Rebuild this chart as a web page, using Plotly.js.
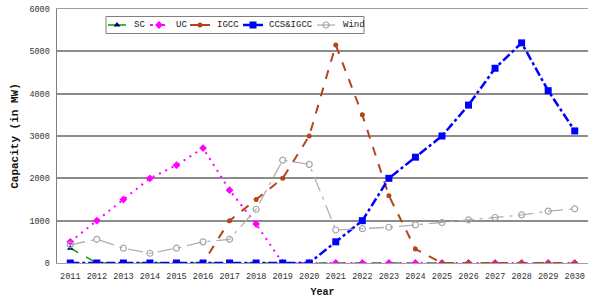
<!DOCTYPE html>
<html><head><meta charset="utf-8">
<script src="https://cdn.plot.ly/plotly-3.0.1.min.js"></script>
<style>html,body{margin:0;padding:0;background:#fff}#chart{width:597px;height:298px}</style>
</head><body><div id="chart"></div>
<script>
const years = ['2011','2012','2013','2014','2015','2016','2017','2018','2019','2020','2021','2022','2023','2024','2025','2026','2027','2028','2029','2030'];
const sc   = [350,0,0,0,0,0,0,0,0,0,0,0,0,0,0,0,0,0,0,0];
const uc   = [500,1000,1500,2000,2310,2715,1720,920,0,0,0,0,0,0,0,0,0,0,0,0];
const igcc = [0,0,0,0,0,0,1000,1500,2000,3000,5150,3500,1590,330,0,0,0,0,0,0];
const ccs  = [0,0,0,0,0,0,0,0,0,0,500,1000,2000,2500,3000,3730,4600,5200,4070,3120];
const wind = [430,560,350,230,350,500,560,1270,2430,2330,780,810,845,900,955,1020,1075,1135,1225,1280];
const seriesNames = ['SC','UC','IGCC','CCS&IGCC','Wind'];
const yTicks = [0,1000,2000,3000,4000,5000,6000];

const F = 'Liberation Mono, DejaVu Sans Mono, monospace';
const styles = [
  {line: {color: '#00a000', width: 1.5, dash: 'dash'}, marker: {symbol: 'triangle-up', size: 6, color: '#000080'}},
  {line: {color: '#ff00ff', width: 2, dash: '2px,5px'}, marker: {symbol: 'diamond', size: 6, color: '#ff00ff'}},
  {line: {color: '#b5451b', width: 2, dash: 'dash'}, marker: {symbol: 'circle', size: 5, color: '#b5451b'}},
  {line: {color: '#0000ff', width: 2.5, dash: 'dashdot'}, marker: {symbol: 'square', size: 7, color: '#0000ff'}},
  {line: {color: '#b0b0b0', width: 1.3, dash: 'longdashdot'}, marker: {symbol: 'circle-open', size: 6, color: '#a6a6a6', line: {width: 1.2}}}
];
const values = [sc, uc, igcc, ccs, wind];
const traces = values.map((v, i) => ({x: years, y: v, name: seriesNames[i], mode: 'lines+markers',
  line: styles[i].line, marker: styles[i].marker, showlegend: false, hoverinfo: 'skip'}));

// hand-made legend (pixel coordinates on an overlay axis)
const legSym = [[108,126],[150,168],[190,210],[243,263],[317,335]];
const legText = [132,174,215,267,341];
const legY = 25;
const annotations = [];
legSym.forEach((s, i) => {
  const st = styles[i];
  traces.push({x: [s[0], s[1]], y: [legY, legY], xaxis: 'x2', yaxis: 'y2', mode: 'lines', showlegend: false,
    hoverinfo: 'skip', line: {color: st.line.color, width: st.line.width, dash: i === 1 ? 'dot' : 'solid'}});
  traces.push({x: [(s[0] + s[1]) / 2], y: [legY], xaxis: 'x2', yaxis: 'y2', mode: 'markers', showlegend: false,
    hoverinfo: 'skip', marker: st.marker});
  annotations.push({x: legText[i], y: legY, xref: 'x2', yref: 'y2', xanchor: 'left', yanchor: 'middle',
    text: seriesNames[i].replace('&', '&amp;'), showarrow: false, font: {family: F, size: 9, color: '#222'}});
});

const layout = {
  width: 597, height: 298,
  margin: {l: 57, r: 9, t: 9, b: 35},
  paper_bgcolor: '#fff', plot_bgcolor: '#fff',
  showlegend: false,
  annotations: annotations,
  shapes: [{type: 'rect', xref: 'x2', yref: 'y2', x0: 106, x1: 364, y0: 16.5, y1: 33.5,
    line: {color: '#808080', width: 1}, fillcolor: 'rgba(0,0,0,0)', layer: 'above'}],
  xaxis: {type: 'category', range: [-0.5, 19.5], showgrid: false, zeroline: false,
    showline: true, linecolor: '#a0a0a0', linewidth: 1, mirror: true,
    ticks: '', ticklabelstandoff: 5, tickfont: {family: F, size: 8.5, color: '#333'},
    title: {text: '<b>Year</b>', font: {family: F, size: 10, color: '#111'}, standoff: 8}},
  yaxis: {range: [0, 6000], tickvals: yTicks, showgrid: true, gridcolor: '#8c8c8c', gridwidth: 2,
    zeroline: false, showline: true, linecolor: '#808080', linewidth: 1.5, mirror: false,
    ticks: '', ticklabelstandoff: 4, tickfont: {family: F, size: 8.5, color: '#333'},
    title: {text: '<b>Capacity (in MW)</b>', font: {family: F, size: 11, color: '#111'}, standoff: 8}},
  xaxis2: {overlaying: 'x', range: [57, 588], visible: false, fixedrange: true},
  yaxis2: {overlaying: 'y', range: [263, 9], visible: false, fixedrange: true}
};
Plotly.newPlot('chart', traces, layout, {displayModeBar: false, staticPlot: true});
</script></body></html>
